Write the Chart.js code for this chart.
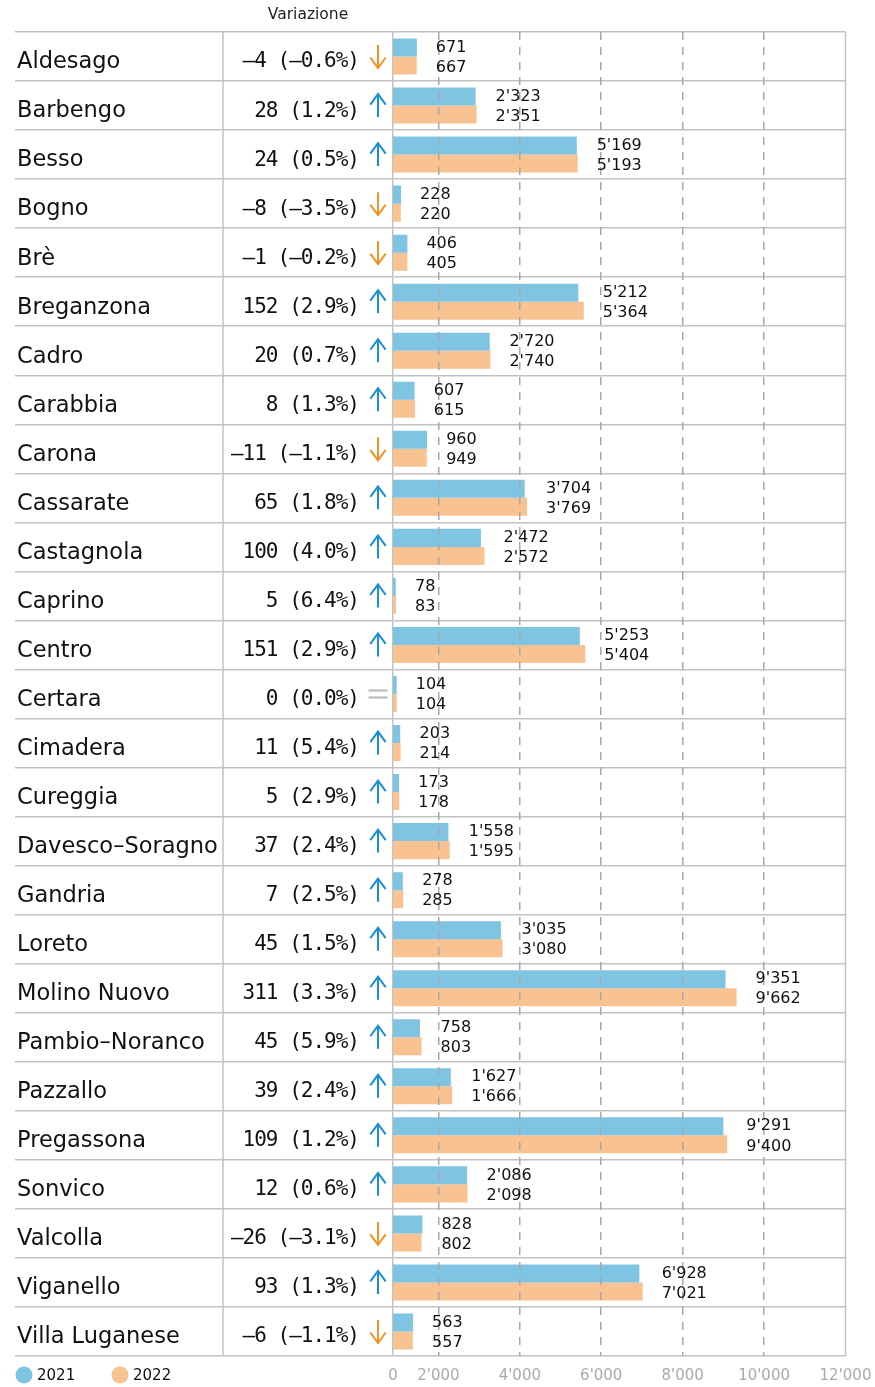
<!DOCTYPE html>
<html>
<head>
<meta charset="utf-8">
<script src="https://cdn.jsdelivr.net/npm/chart.js@4"></script>
<style>
  html, body { margin: 0; padding: 0; background: #fff; }
  canvas { display: block; }
</style>
</head>
<body>
<canvas id="chart" width="875" height="1387"></canvas>
<script>
const quartieri = ['Aldesago', 'Barbengo', 'Besso', 'Bogno', 'Brè', 'Breganzona', 'Cadro', 'Carabbia', 'Carona',
  'Cassarate', 'Castagnola', 'Caprino', 'Centro', 'Certara', 'Cimadera', 'Cureggia', 'Davesco–Soragno', 'Gandria',
  'Loreto', 'Molino Nuovo', 'Pambio–Noranco', 'Pazzallo', 'Pregassona', 'Sonvico', 'Valcolla', 'Viganello', 'Villa Luganese']
const pop2021 = [671, 2323, 5169, 228, 406, 5212, 2720, 607, 960, 3704, 2472, 78, 5253, 104, 203, 173, 1558, 278,
  3035, 9351, 758, 1627, 9291, 2086, 828, 6928, 563]
const pop2022 = [667, 2351, 5193, 220, 405, 5364, 2740, 615, 949, 3769, 2572, 83, 5404, 104, 214, 178, 1595, 285,
  3080, 9662, 803, 1666, 9400, 2098, 802, 7021, 557]
const xTicks = [0, 2000, 4000, 6000, 8000, 10000, 12000]

const blue = '#80c4e4'
const orange = '#f8c291'
const lineColor = '#c2c2c2'
const sans = '"DejaVu Sans"'

function fmt(v) {
  const s = String(Math.abs(v)).replace(/\B(?=(\d{3})+(?!\d))/g, "'")
  return (v < 0 ? '–' : '') + s
}

function variazione(i) {
  const d = pop2022[i] - pop2021[i]
  const p = (d / pop2021[i]) * 100
  return fmt(d) + ' (' + (p < 0 ? '–' : '') + Math.abs(p).toFixed(1) + '%)'
}

// freccia su/giù o segno uguale nella colonna variazione
function freccia(ctx, d, x, y) {
  ctx.lineWidth = 2
  ctx.lineCap = 'butt'
  ctx.lineJoin = 'miter'
  ctx.beginPath()
  if (d === 0) {
    ctx.strokeStyle = '#b8b8b8'
    ctx.moveTo(x - 9.5, y - 3.5); ctx.lineTo(x + 9.5, y - 3.5)
    ctx.moveTo(x - 9.5, y + 3.5); ctx.lineTo(x + 9.5, y + 3.5)
  } else {
    const s = d > 0 ? -1 : 1
    ctx.strokeStyle = d > 0 ? '#1b8fd4' : '#f39224'
    ctx.moveTo(x, y - 11.5 * s); ctx.lineTo(x, y + 11.5 * s)
    ctx.moveTo(x - 7.7, y + 1 * s); ctx.lineTo(x, y + 11.5 * s); ctx.lineTo(x + 7.7, y + 1 * s)
  }
  ctx.stroke()
}

const tablePlugin = {
  id: 'table',
  afterDraw(chart) {
    const { ctx, chartArea, scales } = chart
    const y = scales.y
    ctx.save()

    // colonne della tabella
    ctx.strokeStyle = lineColor
    ctx.lineWidth = 1.5
    ;[223, chartArea.right].forEach(x => {
      ctx.beginPath()
      ctx.moveTo(x, chartArea.top)
      ctx.lineTo(x, chartArea.bottom)
      ctx.stroke()
    })

    ctx.fillStyle = '#222'
    ctx.font = '15.5px ' + sans
    ctx.textAlign = 'center'
    ctx.textBaseline = 'middle'
    ctx.fillText('Variazione', 308, 15)

    quartieri.forEach((q, i) => {
      const yc = y.getPixelForValue(i)
      const d = pop2022[i] - pop2021[i]
      ctx.font = '21px "DejaVu Sans Mono"'
      ctx.letterSpacing = '-1px'
      ctx.fillStyle = '#111'
      ctx.textAlign = 'right'
      ctx.fillText(variazione(i), 359, yc + 5.5)
      ctx.letterSpacing = '0px'
      freccia(ctx, d, 378, yc)
    })

    // etichette dei valori
    const m0 = chart.getDatasetMeta(0)
    const m1 = chart.getDatasetMeta(1)
    ctx.font = '16px ' + sans
    ctx.fillStyle = '#111'
    ctx.textAlign = 'left'
    m0.data.forEach((bar, i) => {
      const other = m1.data[i]
      const lx = Math.max(bar.x, other.x) + 19
      ctx.fillText(fmt(pop2021[i]), lx, bar.y)
      ctx.fillText(fmt(pop2022[i]), lx, other.y + 2)
    })

    // legenda
    chart.data.datasets.forEach((ds, k) => {
      const cx = 24 + k * 96
      ctx.fillStyle = ds.backgroundColor
      ctx.beginPath()
      ctx.arc(cx, 1375, 8.5, 0, Math.PI * 2)
      ctx.fill()
      ctx.fillStyle = '#111'
      ctx.font = '15px ' + sans
      ctx.fillText(ds.label, cx + 13, 1376)
    })
    ctx.restore()
  },
}

new Chart(document.getElementById('chart'), {
  type: 'bar',
  data: {
    labels: quartieri,
    datasets: [
      { label: '2021', data: pop2021, backgroundColor: blue, xAxisID: 'x' },
      { label: '2022', data: pop2022, backgroundColor: orange, xAxisID: 'x' },
    ],
  },
  options: {
    indexAxis: 'y',
    responsive: false,
    animation: false,
    devicePixelRatio: 1,
    categoryPercentage: 0.735,
    barPercentage: 1,
    layout: { padding: { left: 17, right: 29.5, top: 32, bottom: 0 } },
    plugins: { legend: { display: false }, tooltip: { enabled: false } },
    scales: {
      x: { display: false, min: 0, max: 12725 },
      x2: {
        position: 'bottom',
        min: 885,
        max: 12000,
        afterBuildTicks: scale => {
          scale.ticks = xTicks.map(v => ({ value: Math.max(v, scale.min) }))
        },
        afterFit: scale => {
          scale.height = 31
          scale.paddingLeft = 0
          scale.paddingRight = 0
        },
        ticks: {
          autoSkip: false,
          maxRotation: 0,
          padding: 11,
          color: '#aaa',
          font: { family: 'DejaVu Sans', size: 15 },
          callback: (v, i) => fmt(xTicks[i]),
        },
        grid: {
          z: 1,
          drawTicks: false,
          lineWidth: 1.5,
          color: c => (c.index === 0 || c.index === xTicks.length - 1 ? 'rgba(0,0,0,0)' : '#a8a8a8'),
        },
        border: { display: false, dash: [8, 7] },
      },
      y: {
        afterFit: scale => { scale.width = 376 },
        ticks: {
          crossAlign: 'far',
          labelOffset: 6,
          color: '#111',
          font: { family: 'DejaVu Sans', size: 22.5 },
        },
        grid: {
          color: lineColor,
          lineWidth: 1.5,
          tickLength: 378,
          tickColor: lineColor,
          tickWidth: 1.5,
        },
        border: { color: lineColor, width: 1.5 },
      },
    },
  },
  plugins: [tablePlugin],
})
</script>
</body>
</html>
